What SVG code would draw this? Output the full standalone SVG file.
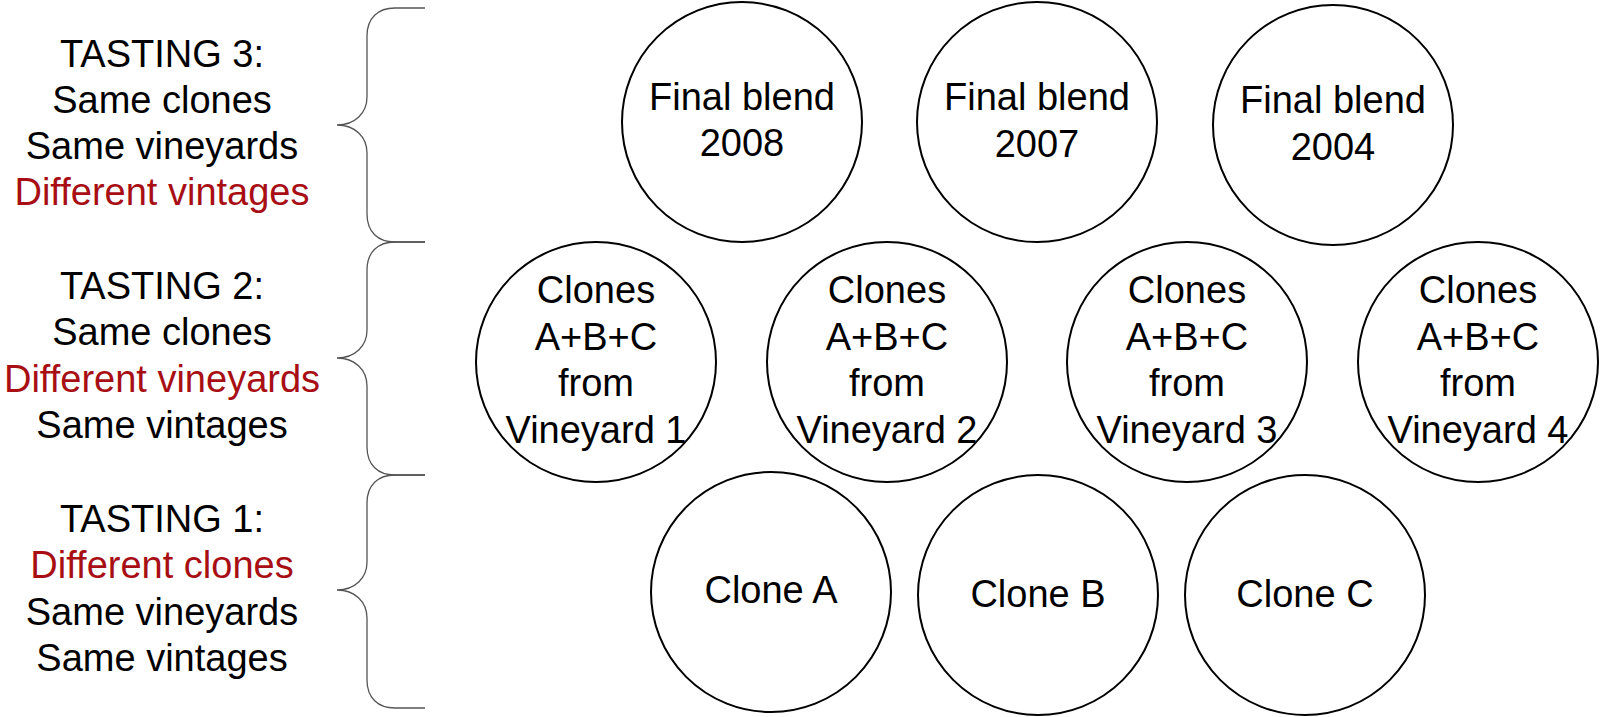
<svg xmlns="http://www.w3.org/2000/svg" width="1600" height="717" viewBox="0 0 1600 717">
<style>
.bg{fill:#ffffff}
.node circle{fill:#ffffff;stroke:#000000;stroke-width:2}
text{font-family:"Liberation Sans",Arial,sans-serif;font-size:38px;fill:#000000;text-anchor:middle}
.red{fill:#a80f14}
.brace{fill:none;stroke:#555555;stroke-width:1.3}
</style>
<rect class="bg" x="0" y="0" width="1600" height="717"/>
<g id="connectors">
<path class="brace" d="M425 8 L395 8 C378 8 367 18 367 36 L367 97 C367 113 355 125 337 125 C355 125 367 137 367 153 L367 214 C367 232 378 242 395 242 L425 242"/>
<path class="brace" d="M425 242 L395 242 C378 242 367 252 367 270 L367 330 C367 346 355 358 337 358 C355 358 367 370 367 386 L367 447 C367 465 378 475 395 475 L425 475"/>
<path class="brace" d="M425 475 L395 475 C378 475 367 485 367 503 L367 562 C367 578 355 590 337 590 C355 590 367 602 367 618 L367 680 C367 698 378 708 395 708 L425 708"/>
</g>
<g id="label-tasting3">
<text x="162" y="67">TASTING 3:</text>
<text x="162" y="113">Same clones</text>
<text x="162" y="159">Same vineyards</text>
<text x="162" y="205" class="red">Different vintages</text>
</g>
<g id="label-tasting2">
<text x="162" y="299">TASTING 2:</text>
<text x="162" y="345">Same clones</text>
<text x="162" y="392" class="red">Different vineyards</text>
<text x="162" y="438">Same vintages</text>
</g>
<g id="label-tasting1">
<text x="162" y="532">TASTING 1:</text>
<text x="162" y="578" class="red">Different clones</text>
<text x="162" y="625">Same vineyards</text>
<text x="162" y="671">Same vintages</text>
</g>
<g id="node-final-2008" class="node">
<circle cx="742" cy="122" r="120"/>
<text x="742" y="110">Final blend</text>
<text x="742" y="156">2008</text>
</g>
<g id="node-final-2007" class="node">
<circle cx="1037" cy="122" r="120"/>
<text x="1037" y="110">Final blend</text>
<text x="1037" y="157">2007</text>
</g>
<g id="node-final-2004" class="node">
<circle cx="1333" cy="125" r="120"/>
<text x="1333" y="113">Final blend</text>
<text x="1333" y="160">2004</text>
</g>
<g id="node-vineyard-1" class="node">
<circle cx="596" cy="362" r="120"/>
<text x="596" y="303">Clones</text>
<text x="596" y="350">A+B+C</text>
<text x="596" y="396">from</text>
<text x="596" y="443">Vineyard 1</text>
</g>
<g id="node-vineyard-2" class="node">
<circle cx="887" cy="362" r="120"/>
<text x="887" y="303">Clones</text>
<text x="887" y="350">A+B+C</text>
<text x="887" y="396">from</text>
<text x="887" y="443">Vineyard 2</text>
</g>
<g id="node-vineyard-3" class="node">
<circle cx="1187" cy="362" r="120"/>
<text x="1187" y="303">Clones</text>
<text x="1187" y="350">A+B+C</text>
<text x="1187" y="396">from</text>
<text x="1187" y="443">Vineyard 3</text>
</g>
<g id="node-vineyard-4" class="node">
<circle cx="1478" cy="362" r="120"/>
<text x="1478" y="303">Clones</text>
<text x="1478" y="350">A+B+C</text>
<text x="1478" y="396">from</text>
<text x="1478" y="443">Vineyard 4</text>
</g>
<g id="node-clone-a" class="node">
<circle cx="771" cy="592" r="120"/>
<text x="771" y="603">Clone A</text>
</g>
<g id="node-clone-b" class="node">
<circle cx="1038" cy="595" r="120"/>
<text x="1038" y="607">Clone B</text>
</g>
<g id="node-clone-c" class="node">
<circle cx="1305" cy="595" r="120"/>
<text x="1305" y="607">Clone C</text>
</g>
</svg>
